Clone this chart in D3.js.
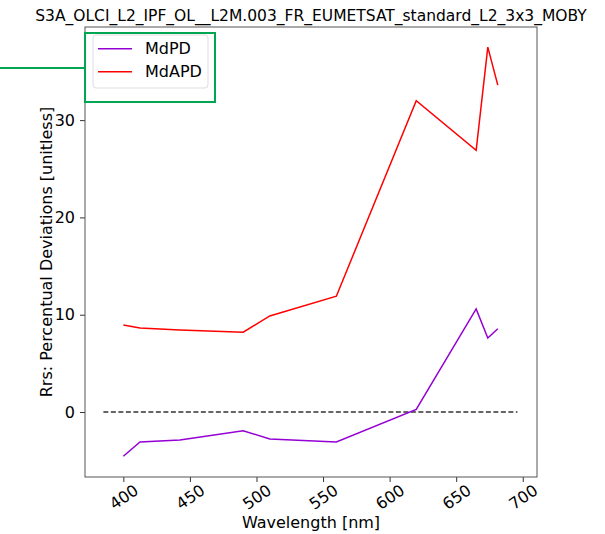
<!DOCTYPE html>
<html>
<head>
<meta charset="utf-8">
<script src="https://cdn.jsdelivr.net/npm/d3@7"></script>
<style>
  body { margin: 0; background: #fff; }
  text { font-family: "DejaVu Sans", sans-serif; fill: #000; }
</style>
</head>
<body>
<svg id="chart" width="605" height="534"></svg>
<script>
const wavelengths = [400, 412.5, 442.5, 490, 510, 560, 620, 665, 673.75, 681.25];
const mdpd = [-4.55, -3.08, -2.88, -1.92, -2.77, -3.08, 0.27, 10.6, 7.6, 8.55];
const mdapd = [8.95, 8.63, 8.42, 8.2, 9.87, 11.9, 32.0, 26.9, 37.5, 33.6];
const xTicks = [400, 450, 500, 550, 600, 650, 700];
const yTicks = [0, 10, 20, 30];
const zeroLine = [385, 696];

const title = 'S3A_OLCI_L2_IPF_OL__L2M.003_FR_EUMETSAT_standard_L2_3x3_MOBY';

const plot = { left: 85, right: 537, top: 27, bottom: 477 };

const svg = d3.select('#chart');

const x = d3.scaleLinear().domain([371.2, 710.7]).range([plot.left, plot.right]);
const y = d3.scaleLinear().domain([-6.68, 39.57]).range([plot.bottom, plot.top]);

// dashed zero line
svg.append('line')
  .attr('x1', x(zeroLine[0])).attr('x2', x(zeroLine[1]))
  .attr('y1', y(0)).attr('y2', y(0))
  .attr('stroke', '#333')
  .attr('stroke-width', 1.5)
  .attr('stroke-dasharray', '5,2.5');

const line = d3.line()
  .x((d, i) => x(wavelengths[i]))
  .y(d => y(d));

svg.append('path')
  .datum(mdpd)
  .attr('d', line)
  .attr('fill', 'none')
  .attr('stroke', '#9400d3')
  .attr('stroke-width', 1.5);

svg.append('path')
  .datum(mdapd)
  .attr('d', line)
  .attr('fill', 'none')
  .attr('stroke', '#ff0000')
  .attr('stroke-width', 1.5);

// axes
const xAxis = svg.append('g')
  .attr('transform', `translate(0,${plot.bottom})`)
  .call(d3.axisBottom(x).tickValues(xTicks).tickSize(5));
xAxis.selectAll('text')
  .style('font-size', '16px')
  .attr('text-anchor', 'middle')
  .attr('y', 20)
  .attr('dy', '0.35em')
  .attr('transform', 'rotate(-35,0,20)');

const yAxis = svg.append('g')
  .attr('transform', `translate(${plot.left},0)`)
  .call(d3.axisLeft(y).tickValues(yTicks).tickSize(5).tickPadding(5));
yAxis.selectAll('text').style('font-size', '16px');

svg.selectAll('.domain').remove();
svg.selectAll('.tick line').attr('stroke', '#333');

// frame
svg.append('rect')
  .attr('x', plot.left).attr('y', plot.top)
  .attr('width', plot.right - plot.left).attr('height', plot.bottom - plot.top)
  .attr('fill', 'none')
  .attr('stroke', '#555')
  .attr('stroke-width', 1);

// title and labels
svg.append('text')
  .attr('x', (plot.left + plot.right) / 2).attr('y', 21)
  .attr('text-anchor', 'middle')
  .style('font-size', '15.5px')
  .text(title);

svg.append('text')
  .attr('x', (plot.left + plot.right) / 2).attr('y', 528)
  .attr('text-anchor', 'middle')
  .style('font-size', '16px')
  .text('Wavelength [nm]');

svg.append('text')
  .attr('transform', `translate(52,${(plot.top + plot.bottom) / 2}) rotate(-90)`)
  .attr('text-anchor', 'middle')
  .style('font-size', '16px')
  .text('Rrs: Percentual Deviations [unitless]');

// legend
const legend = svg.append('g');
legend.append('rect')
  .attr('x', 93).attr('y', 35)
  .attr('width', 115).attr('height', 53)
  .attr('rx', 3)
  .attr('fill', '#fff')
  .attr('fill-opacity', 0.8)
  .attr('stroke', '#ddd');

const series = [{ name: 'MdPD', color: '#9400d3' }, { name: 'MdAPD', color: '#ff0000' }];
series.forEach((s, i) => {
  const ly = 48.7 + i * 23;
  legend.append('line')
    .attr('x1', 98).attr('x2', 132)
    .attr('y1', ly).attr('y2', ly)
    .attr('stroke', s.color).attr('stroke-width', 1.5);
  legend.append('text')
    .attr('x', 145).attr('y', ly + 5.5)
    .style('font-size', '16px')
    .text(s.name);
});

// green highlight box
svg.append('rect')
  .attr('x', 85).attr('y', 33)
  .attr('width', 130).attr('height', 69)
  .attr('fill', 'none')
  .attr('stroke', '#00a651')
  .attr('stroke-width', 2);
svg.append('line')
  .attr('x1', 0).attr('x2', 85)
  .attr('y1', 68).attr('y2', 68)
  .attr('stroke', '#00a651')
  .attr('stroke-width', 2);
</script>
</body>
</html>
